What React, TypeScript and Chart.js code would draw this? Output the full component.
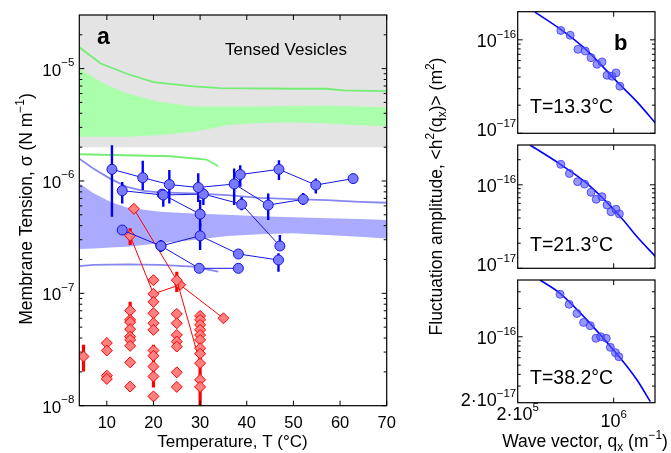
import { useEffect, useRef } from "react";
import { Chart, registerables } from "chart.js";
Chart.register(...registerables);

const W = 671;
const H = 453;
const FONT = '"Liberation Sans", Arial, Helvetica, sans-serif';

// ---------------- Panel a : membrane tension vs temperature ----------------
const A_T_MIN = 4.1;
const A_T_MAX = 70;
const A_S_MIN = 1e-8;
const A_S_MAX = 3e-5;
const A_T_TICKS = [10, 20, 30, 40, 50, 60, 70];
const A_S_EXPONENTS = [-8, -7, -6, -5];
const TENSED_LIMIT = 2e-6;

const GREEN_BAND_T = [4.1, 9.2, 14.3, 21.4, 28.5, 35.8, 42.8, 49.9, 57.2, 64.2, 70];
const GREEN_BAND_HI = [9.98e-6, 7.4e-6, 6.03e-6, 5.04e-6, 4.61e-6, 4.61e-6, 4.61e-6, 4.65e-6, 4.67e-6, 4.59e-6, 4.52e-6];
const GREEN_BAND_LO = [2.47e-6, 2.47e-6, 2.48e-6, 2.57e-6, 2.73e-6, 3.13e-6, 3.28e-6, 3.33e-6, 3.24e-6, 3.13e-6, 3.07e-6];
const GREEN_UPPER_T = [4.1, 8.7, 14.3, 20.0, 28.6, 34.3, 50.0, 57.1, 60.7, 70];
const GREEN_UPPER_S = [1.55e-5, 1.11e-5, 9.0e-6, 7.59e-6, 6.95e-6, 6.71e-6, 6.62e-6, 6.62e-6, 6.4e-6, 6.31e-6];
const GREEN_LOWER_T = [4.1, 23.6, 31.4, 33.9];
const GREEN_LOWER_S = [1.73e-6, 1.66e-6, 1.55e-6, 1.35e-6];

const BLUE_BAND_T = [4.1, 7.1, 10.7, 14.3, 21.4, 28.5, 35.8, 42.8, 49.9, 57.2, 64.2, 70];
const BLUE_BAND_HI = [9.5e-7, 7.83e-7, 6.52e-7, 5.82e-7, 5.32e-7, 5.14e-7, 5.0e-7, 4.86e-7, 4.76e-7, 4.65e-7, 4.58e-7, 4.49e-7];
const BLUE_BAND_LO = [2.48e-7, 2.51e-7, 2.56e-7, 2.6e-7, 2.79e-7, 2.98e-7, 3.24e-7, 3.35e-7, 3.42e-7, 3.3e-7, 3.19e-7, 3.08e-7];
const BLUE_UPPER_T = [4.1, 7.1, 10.7, 14.3, 17.8, 21.4, 28.5, 35.8, 42.8, 49.9, 57.2, 64.2, 70];
const BLUE_UPPER_S = [1.58e-6, 1.29e-6, 1.05e-6, 8.87e-7, 8.17e-7, 7.91e-7, 7.74e-7, 7.48e-7, 7.08e-7, 6.89e-7, 6.75e-7, 6.52e-7, 6.4e-7];
const BLUE_LOWER_T = [4.1, 7.1, 14.3, 21.4, 28.5, 33.9];
const BLUE_LOWER_S = [1.75e-7, 1.79e-7, 1.81e-7, 1.79e-7, 1.73e-7, 1.56e-7];

// Blue vesicles (connected measurements), with error bar limits (null = none)
const BLUE_1_T = [11.1, 17.7, 23.4, 29.6, 37.3, 44.6, 52.1];
const BLUE_1_S = [1.27e-6, 1.07e-6, 9.3e-7, 8.75e-7, 9.4e-7, 6.1e-7, 6.86e-7];
const BLUE_1_LO = [4.8e-7, 8.3e-7, 6.3e-7, 6.5e-7, 6.1e-7, 4.5e-7, 6.1e-7];
const BLUE_1_HI = [2.08e-6, 1.51e-6, 1.25e-6, 1.17e-6, 1.29e-6, 7.75e-7, 7.8e-7];

const BLUE_2_T = [38.6, 46.9, 54.8, 62.8];
const BLUE_2_S = [1.14e-6, 1.27e-6, 9.2e-7, 1.05e-6];
const BLUE_2_LO = [8.9e-7, 1.02e-6, 7.75e-7, null];
const BLUE_2_HI = [1.38e-6, 1.53e-6, 1.05e-6, null];

const BLUE_3_T = [13.3, 22.1, 30.7, 38.9, 47.1];
const BLUE_3_S = [8.2e-7, 7.5e-7, 7.65e-7, 6.2e-7, 2.64e-7];
const BLUE_3_LO = [6.3e-7, 5.9e-7, 6.1e-7, 5.5e-7, 2.43e-7];
const BLUE_3_HI = [9.8e-7, 8.3e-7, 8.6e-7, 7.2e-7, 3.3e-7];

const BLUE_4_T = [21.85, 30.0];
const BLUE_4_S = [7.64e-7, 5.07e-7];
const BLUE_4_LO = [null, 3.9e-7];
const BLUE_4_HI = [null, 6.76e-7];

const BLUE_5_T = [13.3, 21.6, 30.0, 38.2, 46.8];
const BLUE_5_S = [3.66e-7, 2.64e-7, 3.25e-7, 2.24e-7, 1.98e-7];
const BLUE_5_LO = [null, 2.33e-7, 2.43e-7, null, 1.56e-7];
const BLUE_5_HI = [null, 2.98e-7, 4.2e-7, null, 2.27e-7];

const BLUE_6_T = [21.6, 29.8, 38.2];
const BLUE_6_S = [2.64e-7, 1.67e-7, 1.67e-7];

// Red vesicles: connected ones
const RED_1_T = [15.8, 25, 30];
const RED_1_S = [5.65e-7, 1.31e-7, 2.39e-8];
const RED_2_T = [15, 20, 25.7, 35];
const RED_2_S = [3.25e-7, 9.9e-8, 1.19e-7, 6.0e-8];
// Red error bars
const RED_BAR_T = [5, 15, 15, 20, 25, 30];
const RED_BAR_LO = [2.02e-8, 4.0e-8, 2.69e-7, 1.45e-8, 1.03e-7, 1.0e-8];
const RED_BAR_HI = [3.48e-8, 8.4e-8, 3.79e-7, 3.48e-8, 1.56e-7, 6.87e-8];
// Red unconnected measurements
const RED_T = [
  5,
  10, 10, 10, 10,
  15, 15, 15, 15, 15, 15, 15, 15, 15,
  20, 20, 20, 20, 20, 20, 20, 20, 20, 20,
  25, 25, 25, 25, 25, 25, 25,
  30, 30, 30, 30, 30, 30, 30, 30, 30, 30,
];
const RED_S = [
  2.74e-8,
  3.61e-8, 3.1e-8, 1.85e-8, 1.73e-8,
  7.02e-8, 5.81e-8, 5.54e-8, 4.8e-8, 4.12e-8, 3.85e-8, 3.41e-8, 2.43e-8, 1.48e-8,
  1.31e-7, 8.4e-8, 6.65e-8, 5.42e-8, 4.73e-8, 3.1e-8, 2.78e-8, 2.23e-8, 1.82e-8, 1.21e-8,
  6.56e-8, 5.42e-8, 4.26e-8, 3.72e-8, 3.36e-8, 1.98e-8, 1.47e-8,
  6.3e-8, 5.81e-8, 5.24e-8, 4.73e-8, 4.26e-8, 3.85e-8, 3.25e-8, 2.9e-8, 1.7e-8, 1.47e-8,
];

// ---------------- Panel b : fluctuation spectra ----------------
const B_Q_MIN = 2e5;
const B_Q_MAX = 2e6;
const B_Y_MIN = [1e-17, 1e-17, 2e-17];
const B_Y_MAX = [2e-16, 3e-16, 4e-16];
const B_LABELS = ["T=13.3°C", "T=21.3°C", "T=38.2°C"];

const B1_Q = [4.12e5, 4.82e5, 5.49e5, 6.21e5, 6.84e5, 7.56e5, 8.22e5, 8.95e5, 9.73e5, 1.04e6, 1.11e6];
const B1_H = [1.26e-16, 1.12e-16, 7.91e-17, 7.59e-17, 6.45e-17, 5.47e-17, 5.8e-17, 4.18e-17, 4.08e-17, 4.43e-17, 3.19e-17];
const B1_FIT_Q = [2.67e5, 4.07e5, 6.38e5, 1.06e6, 1.48e6, 2.02e6];
const B1_FIT_H = [1.98e-16, 1.31e-16, 7.73e-17, 3.55e-17, 2.17e-17, 1.28e-17];

const B2_Q = [4.12e5, 4.76e5, 5.46e5, 6.14e5, 6.84e5, 7.46e5, 8.22e5, 8.95e5, 9.57e5, 1.04e6, 1.1e6];
const B2_H = [1.76e-16, 1.37e-16, 1.09e-16, 1.02e-16, 8.14e-17, 6.71e-17, 7.21e-17, 5.73e-17, 4.76e-17, 5.09e-17, 4.48e-17];
const B2_FIT_Q = [2.46e5, 4.07e5, 6.38e5, 1.12e6, 1.48e6, 2.02e6];
const B2_FIT_H = [3.0e-16, 1.77e-16, 1.04e-16, 4.15e-17, 2.39e-17, 1.38e-17];

const B3_Q = [4.07e5, 4.74e5, 5.4e5, 6.04e5, 6.76e5, 7.43e5, 8.04e5, 8.83e5, 9.46e5, 1.03e6, 1.09e6];
const B3_H = [2.82e-16, 2.21e-16, 1.77e-16, 1.42e-16, 1.31e-16, 9.63e-17, 1.0e-16, 9.63e-17, 7.73e-17, 6.78e-17, 6.15e-17];
const B3_FIT_Q = [2.91e5, 4.07e5, 6.38e5, 1.12e6, 1.48e6, 1.85e6];
const B3_FIT_H = [4.0e-16, 2.89e-16, 1.51e-16, 5.92e-17, 3.48e-17, 2.05e-17];

// ---------------- styles ----------------
const GRAY = "rgb(228,228,228)";
const GREEN_FILL = "rgb(170,255,170)";
const GREEN_LINE = "rgb(115,238,115)";
const BLUE_FILL = "rgb(170,170,255)";
const BLUE_LINE = "rgb(135,135,240)";
const BLUE_MARK = "rgb(122,122,255)";
const BLUE_EDGE = "rgb(20,20,225)";
const RED_MARK = "rgb(255,128,128)";
const RED_EDGE = "rgb(255,0,0)";

type Seg = { t: string; k?: "sup" | "sub" };
type Pt = { x: number; y: number };

const pts = (xs: number[], ys: number[]): Pt[] => xs.map((x, i) => ({ x, y: ys[i] }));
const polygon = (xs: number[], hi: number[], lo: number[]): Pt[] => [...pts(xs, hi), ...pts(xs, lo).reverse()];

function drawRich(
  ctx: CanvasRenderingContext2D,
  segs: Seg[],
  x: number,
  y: number,
  size: number,
  align: "left" | "center" | "right",
  opts: { supSize?: number; supRaise?: number; subSize?: number; subDrop?: number; weight?: string } = {}
) {
  const supSize = opts.supSize ?? size * 0.68;
  const supRaise = opts.supRaise ?? size * 0.45;
  const subSize = opts.subSize ?? size * 0.68;
  const subDrop = opts.subDrop ?? size * 0.25;
  const fontOf = (s: Seg) =>
    `${opts.weight ?? "normal"} ${s.k === "sup" ? supSize : s.k === "sub" ? subSize : size}px ${FONT}`;
  let w = 0;
  for (const s of segs) {
    ctx.font = fontOf(s);
    w += ctx.measureText(s.t).width;
  }
  let cx = align === "left" ? x : align === "center" ? x - w / 2 : x - w;
  ctx.textAlign = "left";
  ctx.textBaseline = "alphabetic";
  for (const s of segs) {
    ctx.font = fontOf(s);
    const dy = s.k === "sup" ? -supRaise : s.k === "sub" ? subDrop : 0;
    ctx.fillText(s.t, cx, y + dy);
    cx += ctx.measureText(s.t).width;
  }
}

function logMinor(min: number, max: number): number[] {
  const out: number[] = [];
  for (let e = Math.floor(Math.log10(min)) - 1; e <= Math.ceil(Math.log10(max)); e++) {
    for (let m = 2; m <= 9; m++) {
      const v = m * Math.pow(10, e);
      if (v >= min * 1.0001 && v <= max * 0.9999) out.push(v);
    }
  }
  return out;
}

function drawFrame(chart: any, xMajor: number[], xMinor: number[], yMajor: number[], yMinor: number[]) {
  const { ctx, chartArea: a } = chart;
  const sx = chart.scales.x;
  const sy = chart.scales.y;
  ctx.save();
  ctx.strokeStyle = "#000";
  ctx.lineWidth = 1;
  ctx.beginPath();
  const vt = (v: number, len: number) => {
    const p = sx.getPixelForValue(v);
    ctx.moveTo(p, a.bottom);
    ctx.lineTo(p, a.bottom - len);
    ctx.moveTo(p, a.top);
    ctx.lineTo(p, a.top + len);
  };
  const ht = (v: number, len: number) => {
    const p = sy.getPixelForValue(v);
    ctx.moveTo(a.left, p);
    ctx.lineTo(a.left + len, p);
    ctx.moveTo(a.right, p);
    ctx.lineTo(a.right - len, p);
  };
  xMajor.forEach((v) => vt(v, 5));
  xMinor.forEach((v) => vt(v, 3));
  yMajor.forEach((v) => ht(v, 5));
  yMinor.forEach((v) => ht(v, 3));
  ctx.stroke();
  ctx.lineWidth = 1.2;
  ctx.strokeRect(a.left, a.top, a.right - a.left, a.bottom - a.top);
  ctx.restore();
}

function errorBars(ts: number[], lo: (number | null)[], hi: (number | null)[], color: string, width: number, order: number) {
  const out: any[] = [];
  ts.forEach((t, i) => {
    const l = lo[i];
    const h = hi[i];
    if (l == null || h == null) return;
    out.push({
      data: [{ x: t, y: l }, { x: t, y: h }],
      borderColor: color,
      borderWidth: width,
      borderCapStyle: "butt",
      pointRadius: 0,
      fill: false,
      order,
    });
  });
  return out;
}

function panelAConfig(): any {
  const datasets: any[] = [];
  datasets.push({
    data: pts([A_T_MIN, A_T_MAX], [TENSED_LIMIT, TENSED_LIMIT]),
    fill: "end",
    backgroundColor: GRAY,
    borderWidth: 0,
    borderColor: "rgba(0,0,0,0)",
    pointRadius: 0,
    order: 100,
  });
  datasets.push({
    data: polygon(GREEN_BAND_T, GREEN_BAND_HI, GREEN_BAND_LO),
    fill: "shape",
    backgroundColor: GREEN_FILL,
    borderWidth: 0,
    borderColor: "rgba(0,0,0,0)",
    pointRadius: 0,
    order: 90,
  });
  datasets.push({
    data: polygon(BLUE_BAND_T, BLUE_BAND_HI, BLUE_BAND_LO),
    fill: "shape",
    backgroundColor: BLUE_FILL,
    borderWidth: 0,
    borderColor: "rgba(0,0,0,0)",
    pointRadius: 0,
    order: 90,
  });
  const thin = (data: Pt[], color: string) => ({
    data,
    borderColor: color,
    borderWidth: 1.8,
    pointRadius: 0,
    fill: false,
    order: 80,
  });
  datasets.push(thin(pts(GREEN_UPPER_T, GREEN_UPPER_S), GREEN_LINE));
  datasets.push(thin(pts(GREEN_LOWER_T, GREEN_LOWER_S), GREEN_LINE));
  datasets.push(thin(pts(BLUE_UPPER_T, BLUE_UPPER_S), BLUE_LINE));
  datasets.push(thin(pts(BLUE_LOWER_T, BLUE_LOWER_S), BLUE_LINE));

  const blueSeries = [
    [BLUE_1_T, BLUE_1_S, BLUE_1_LO, BLUE_1_HI],
    [BLUE_2_T, BLUE_2_S, BLUE_2_LO, BLUE_2_HI],
    [BLUE_3_T, BLUE_3_S, BLUE_3_LO, BLUE_3_HI],
    [BLUE_4_T, BLUE_4_S, BLUE_4_LO, BLUE_4_HI],
    [BLUE_5_T, BLUE_5_S, BLUE_5_LO, BLUE_5_HI],
    [BLUE_6_T, BLUE_6_S, null, null],
  ] as any[];
  for (const [t, s, lo, hi] of blueSeries) {
    if (lo && hi) datasets.push(...errorBars(t, lo, hi, "rgb(0,0,255)", 2.4, 20));
    datasets.push({
      data: pts(t, s),
      borderColor: BLUE_EDGE,
      borderWidth: 1,
      pointRadius: 5,
      pointStyle: "circle",
      pointBackgroundColor: BLUE_MARK,
      pointBorderColor: BLUE_EDGE,
      pointBorderWidth: 1,
      fill: false,
      order: 10,
    });
  }

  datasets.push(...errorBars(RED_BAR_T, RED_BAR_LO, RED_BAR_HI, "rgb(255,0,0)", 3.2, 15));
  const redStyle = {
    pointStyle: "rectRot",
    pointRadius: 5.5,
    pointBackgroundColor: RED_MARK,
    pointBorderColor: RED_EDGE,
    pointBorderWidth: 1,
    fill: false,
  };
  datasets.push({ data: pts(RED_1_T, RED_1_S), borderColor: RED_EDGE, borderWidth: 1, order: 10, ...redStyle });
  datasets.push({ data: pts(RED_2_T, RED_2_S), borderColor: RED_EDGE, borderWidth: 1, order: 10, ...redStyle });
  datasets.push({ data: pts(RED_T, RED_S), showLine: false, order: 9, ...redStyle });

  const deco = {
    id: "decoA",
    afterDraw(chart: any) {
      const ctx: CanvasRenderingContext2D = chart.ctx;
      const a = chart.chartArea;
      const sx = chart.scales.x;
      const sy = chart.scales.y;
      drawFrame(
        chart,
        A_T_TICKS,
        [],
        A_S_EXPONENTS.map((e) => Math.pow(10, e)),
        logMinor(A_S_MIN, A_S_MAX)
      );
      ctx.save();
      ctx.fillStyle = "#000";
      ctx.font = `16.5px ${FONT}`;
      ctx.textAlign = "center";
      ctx.textBaseline = "alphabetic";
      for (const v of A_T_TICKS) ctx.fillText(String(v), sx.getPixelForValue(v), 427.6);
      for (const e of A_S_EXPONENTS) {
        const py = sy.getPixelForValue(Math.pow(10, e));
        drawRich(ctx, [{ t: "10" }, { t: "−" + Math.abs(e), k: "sup" }], a.left - 5, py + 7, 17, "right", {
          supSize: 11.5,
          supRaise: 9.5,
        });
      }
      drawRich(ctx, [{ t: "Temperature, T (°C)" }], 232.5, 446.5, 17, "center");
      ctx.save();
      ctx.translate(31.5, 209);
      ctx.rotate(-Math.PI / 2);
      drawRich(ctx, [{ t: "Membrane Tension, σ (N m" }, { t: "−1", k: "sup" }, { t: ")" }], 0, 0, 17.5, "center");
      ctx.restore();
      drawRich(ctx, [{ t: "a" }], 97, 43.5, 23, "left", { weight: "bold" });
      drawRich(ctx, [{ t: "Tensed Vesicles" }], 225, 55, 17, "left");
      ctx.restore();
    },
  };

  return {
    type: "line",
    data: { datasets },
    options: {
      animation: false,
      responsive: false,
      devicePixelRatio: 1,
      events: [],
      layout: { padding: { left: 79.3, top: 15, right: W - 386.7, bottom: H - 405.7 } },
      plugins: { legend: { display: false }, tooltip: { enabled: false } },
      scales: {
        x: { type: "linear", min: A_T_MIN, max: A_T_MAX, display: false, bounds: "data" },
        y: { type: "logarithmic", min: A_S_MIN, max: A_S_MAX, display: false, bounds: "data" },
      },
    },
    plugins: [deco],
  };
}

const B_DATA = [
  { q: B1_Q, h: B1_H, fq: B1_FIT_Q, fh: B1_FIT_H },
  { q: B2_Q, h: B2_H, fq: B2_FIT_Q, fh: B2_FIT_H },
  { q: B3_Q, h: B3_H, fq: B3_FIT_Q, fh: B3_FIT_H },
];
const B_TOP = [11.7, 145, 280];
const B_BOTTOM = [133.3, 268.3, 402.7];
const B_LABEL_BASE = [113, 251, 383.5];

function panelBConfig(i: number): any {
  const d = B_DATA[i];
  const ymin = B_Y_MIN[i];
  const ymax = B_Y_MAX[i];
  const datasets = [
    {
      data: pts(d.fq, d.fh),
      borderColor: "rgb(0,0,255)",
      borderWidth: 1.6,
      pointRadius: 0,
      cubicInterpolationMode: "monotone",
      fill: false,
      order: 5,
    },
    {
      data: pts(d.q, d.h),
      showLine: false,
      pointRadius: 4,
      pointStyle: "circle",
      pointBackgroundColor: "rgba(85,85,255,0.62)",
      pointBorderColor: "rgba(50,50,250,0.75)",
      pointBorderWidth: 1,
      order: 1,
    },
  ];
  const deco = {
    id: "decoB" + i,
    afterDraw(chart: any) {
      const ctx: CanvasRenderingContext2D = chart.ctx;
      const a = chart.chartArea;
      const sx = chart.scales.x;
      const sy = chart.scales.y;
      const yMajor = [1e-17, 1e-16, 1e-15].filter((v) => v >= ymin * 0.999 && v <= ymax * 1.001);
      drawFrame(chart, [1e6], [], yMajor, logMinor(ymin, ymax));
      ctx.save();
      ctx.fillStyle = "#000";
      const supOpts = { supSize: 11.5, supRaise: 9 };
      let py = sy.getPixelForValue(1e-16);
      drawRich(ctx, [{ t: "10" }, { t: "−16", k: "sup" }], a.left - 1.5, py + 7.5, 18, "right", supOpts);
      py = sy.getPixelForValue(ymin);
      const bottomBase = i === 2 ? "2·10" : "10";
      drawRich(ctx, [{ t: bottomBase }, { t: "−17", k: "sup" }], a.left - 1.5, py + 3, 18, "right", supOpts);
      drawRich(ctx, [{ t: B_LABELS[i] }], 530, B_LABEL_BASE[i], 19.5, "left");
      if (i === 0) drawRich(ctx, [{ t: "b" }], 614, 50, 22, "left", { weight: "bold" });
      if (i === 1) {
        ctx.save();
        ctx.translate(441.5, 196.5);
        ctx.rotate(-Math.PI / 2);
        drawRich(
          ctx,
          [
            { t: "Fluctuation amplitude, <h" },
            { t: "2", k: "sup" },
            { t: "(q" },
            { t: "x", k: "sub" },
            { t: ")> (m" },
            { t: "2", k: "sup" },
            { t: ")" },
          ],
          0,
          0,
          17.5,
          "center"
        );
        ctx.restore();
      }
      if (i === 2) {
        drawRich(ctx, [{ t: "2·10" }, { t: "5", k: "sup" }], sx.getPixelForValue(B_Q_MIN), 420, 18, "center", supOpts);
        drawRich(ctx, [{ t: "10" }, { t: "6", k: "sup" }], sx.getPixelForValue(1e6), 426.7, 18, "center", supOpts);
        drawRich(ctx, [{ t: "Wave vector, q" }, { t: "x", k: "sub" }, { t: " (m" }, { t: "−1", k: "sup" }, { t: ")" }], 585, 446.5, 17.5, "center");
      }
      ctx.restore();
    },
  };
  return {
    type: "line",
    data: { datasets },
    options: {
      animation: false,
      responsive: false,
      devicePixelRatio: 1,
      events: [],
      layout: { padding: { left: 517.7, top: B_TOP[i], right: W - 655, bottom: H - B_BOTTOM[i] } },
      plugins: { legend: { display: false }, tooltip: { enabled: false } },
      scales: {
        x: { type: "logarithmic", min: B_Q_MIN, max: B_Q_MAX, display: false, bounds: "data" },
        y: { type: "logarithmic", min: ymin, max: ymax, display: false, bounds: "data" },
      },
    },
    plugins: [deco],
  };
}

export default function App() {
  const aRef = useRef<HTMLCanvasElement>(null);
  const b1Ref = useRef<HTMLCanvasElement>(null);
  const b2Ref = useRef<HTMLCanvasElement>(null);
  const b3Ref = useRef<HTMLCanvasElement>(null);
  useEffect(() => {
    const charts = [
      new Chart(aRef.current as HTMLCanvasElement, panelAConfig()),
      new Chart(b1Ref.current as HTMLCanvasElement, panelBConfig(0)),
      new Chart(b2Ref.current as HTMLCanvasElement, panelBConfig(1)),
      new Chart(b3Ref.current as HTMLCanvasElement, panelBConfig(2)),
    ];
    return () => charts.forEach((c) => c.destroy());
  }, []);
  const refs = [aRef, b1Ref, b2Ref, b3Ref];
  return (
    <div style={{ position: "fixed", left: 0, top: 0, width: W, height: H, background: "#fff" }}>
      {refs.map((r, i) => (
        <canvas
          key={i}
          ref={r}
          width={W}
          height={H}
          style={{ position: "absolute", left: 0, top: 0, width: W, height: H }}
        />
      ))}
    </div>
  );
}
